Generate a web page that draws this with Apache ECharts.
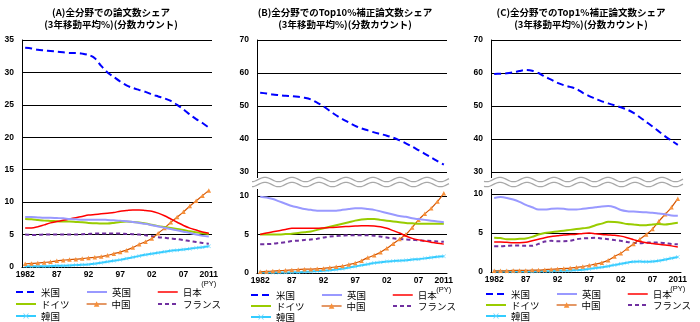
<!DOCTYPE html>
<html><head><meta charset="utf-8">
<script src="https://cdn.jsdelivr.net/npm/echarts@6/dist/echarts.min.js"></script>
<style>html,body{margin:0;padding:0;background:#fff}#c{width:700px;height:322px}</style>
</head><body><div id="c"></div>
<script>
const years = ['1982','1983','1984','1985','1986','1987','1988','1989','1990','1991','1992','1993','1994','1995','1996','1997','1998','1999','2000','2001','2002','2003','2004','2005','2006','2007','2008','2009','2010','2011'];
const xTickYears = ['1982','1987','1992','1997','2002','2007','2011'];
const xTickText  = ['1982','87','92','97','02','07','2011'];
const seriesNames = ['米国','英国','日本','ドイツ','中国','フランス','韓国'];
const panelTitles = [
  '(A)全分野での論文数シェア\n(3年移動平均%)(分数カウント)',
  '(B)全分野でのTop10%補正論文数シェア\n(3年移動平均%)(分数カウント)',
  '(C)全分野でのTop1%補正論文数シェア\n(3年移動平均%)(分数カウント)'
];

// Panel A: 論文数シェア
const usA = [33.8,33.7,33.5,33.4,33.3,33.2,33.1,33.0,33.0,32.9,32.7,32.2,31.0,30.0,29.3,28.6,28.0,27.6,27.3,27.0,26.6,26.3,26.0,25.6,25.0,24.3,23.5,22.8,22.2,21.5];
const ukA = [7.7,7.7,7.65,7.6,7.6,7.55,7.5,7.4,7.35,7.3,7.3,7.3,7.3,7.25,7.2,7.15,7.05,6.95,6.8,6.65,6.45,6.25,6.05,5.85,5.65,5.45,5.25,5.0,4.8,4.7];
const jpA = [6.0,6.0,6.2,6.5,6.8,7.0,7.2,7.4,7.6,7.8,8.0,8.1,8.2,8.3,8.4,8.6,8.7,8.8,8.8,8.7,8.6,8.3,7.9,7.4,6.9,6.4,6.0,5.7,5.4,5.2];
const deA = [7.4,7.35,7.25,7.15,7.1,7.05,7.0,7.0,6.95,6.9,6.8,6.75,6.7,6.7,6.8,6.95,7.0,6.95,6.85,6.7,6.5,6.3,6.15,6.0,5.85,5.7,5.5,5.35,5.2,5.1];
const cnA = [0.5,0.55,0.6,0.7,0.8,0.95,1.05,1.15,1.2,1.3,1.4,1.5,1.6,1.8,2.05,2.3,2.6,3.0,3.5,3.9,4.4,5.2,6.0,6.9,7.7,8.5,9.4,10.2,11.0,11.8];
const frA = [5.0,4.95,4.95,5.0,5.0,5.0,5.0,5.0,5.0,5.05,5.1,5.15,5.15,5.15,5.15,5.15,5.1,5.05,5.0,4.9,4.75,4.6,4.5,4.4,4.3,4.15,4.0,3.85,3.7,3.6];
const krA = [0.1,0.1,0.1,0.1,0.15,0.2,0.2,0.25,0.3,0.35,0.4,0.5,0.65,0.8,0.95,1.1,1.3,1.5,1.7,1.9,2.05,2.2,2.35,2.5,2.6,2.7,2.8,2.95,3.05,3.2];

// Panel B: Top10%
const usB = [54.0,53.8,53.5,53.3,53.1,53.0,52.8,52.5,52.0,51.0,49.9,48.5,47.2,46.0,45.0,44.0,43.2,42.6,42.0,41.5,41.0,40.4,39.6,38.7,37.7,36.6,35.5,34.4,33.3,32.2];
const ukB = [9.9,9.8,9.6,9.3,9.0,8.7,8.5,8.3,8.2,8.1,8.1,8.1,8.1,8.2,8.3,8.4,8.4,8.3,8.2,8.0,7.8,7.6,7.4,7.3,7.1,7.0,6.9,6.8,6.7,6.6];
const jpB = [5.0,5.2,5.35,5.5,5.65,5.8,5.8,5.8,5.8,5.8,5.85,5.9,5.95,6.0,6.05,6.1,6.15,6.15,6.1,6.0,5.8,5.5,5.2,4.8,4.5,4.3,4.15,4.0,3.85,3.75];
const deB = [5.0,5.0,5.0,5.0,5.05,5.1,5.2,5.3,5.4,5.6,5.8,6.0,6.2,6.4,6.6,6.8,6.95,7.0,7.0,6.9,6.8,6.7,6.6,6.5,6.45,6.4,6.4,6.4,6.4,6.4];
const cnB = [0.15,0.2,0.25,0.3,0.35,0.4,0.45,0.5,0.5,0.55,0.6,0.7,0.8,0.9,1.1,1.3,1.6,2.0,2.3,2.7,3.2,3.8,4.4,5.0,5.9,6.9,7.7,8.4,9.3,10.35];
const frB = [3.75,3.75,3.8,3.9,4.0,4.15,4.2,4.3,4.35,4.45,4.6,4.75,4.8,4.85,4.9,4.9,4.9,4.9,4.85,4.75,4.6,4.5,4.4,4.35,4.3,4.25,4.2,4.15,4.1,4.05];
const krB = [0.05,0.05,0.05,0.05,0.05,0.1,0.1,0.15,0.2,0.25,0.3,0.35,0.45,0.55,0.7,0.85,1.0,1.15,1.3,1.4,1.5,1.55,1.6,1.65,1.75,1.8,1.9,2.0,2.1,2.17];

// Panel C: Top1%
const usC = [59.7,59.8,59.9,60.2,60.6,60.9,60.7,60.0,58.9,58.0,57.0,56.3,55.8,55.2,54.0,53.0,52.2,51.4,50.8,50.2,49.6,48.9,47.9,46.6,45.2,43.8,42.3,40.8,39.5,38.2];
const ukC = [9.5,9.6,9.5,9.3,9.0,8.6,8.3,8.0,8.0,8.1,8.15,8.1,8.0,8.0,8.1,8.2,8.3,8.4,8.45,8.3,7.95,7.8,7.75,7.7,7.65,7.6,7.5,7.4,7.25,7.2];
const jpC = [3.85,3.85,3.8,3.75,3.75,3.8,4.0,4.2,4.4,4.55,4.65,4.75,4.8,4.85,4.95,5.0,4.9,4.8,4.75,4.7,4.6,4.4,4.15,3.9,3.75,3.65,3.55,3.45,3.35,3.2];
const deC = [4.4,4.35,4.2,4.2,4.25,4.3,4.5,4.8,5.0,5.1,5.2,5.3,5.4,5.5,5.6,5.7,6.0,6.2,6.45,6.4,6.3,6.15,6.1,6.0,6.0,6.1,6.15,6.1,6.2,6.3];
const cnC = [0.15,0.15,0.15,0.2,0.2,0.2,0.25,0.25,0.3,0.35,0.4,0.45,0.5,0.6,0.7,0.85,1.0,1.2,1.5,2.0,2.4,3.0,3.6,4.2,4.8,5.5,6.5,7.4,8.3,9.4];
const frC = [3.3,3.3,3.35,3.4,3.4,3.35,3.35,3.6,3.9,4.0,3.95,3.95,4.0,4.2,4.3,4.35,4.4,4.3,4.2,4.1,4.0,3.85,3.75,3.7,3.75,3.8,3.75,3.7,3.6,3.55];
const krC = [0.05,0.05,0.05,0.05,0.05,0.05,0.05,0.1,0.1,0.1,0.15,0.15,0.2,0.25,0.3,0.4,0.5,0.6,0.75,0.9,1.05,1.2,1.3,1.35,1.3,1.35,1.45,1.6,1.75,1.93];

const panelData = [
  [usA, ukA, jpA, deA, cnA, frA, krA],
  [usB, ukB, jpB, deB, cnB, frB, krB],
  [usC, ukC, jpC, deC, cnC, frC, krC]
];

const crossPath = 'path://M0,1L1,0L5,4L9,0L10,1L6,5L10,9L9,10L5,6L1,10L0,9L4,5Z';
const styles = {
  '米国':   {lineStyle:{color:'#0000FF',width:2,type:[7,4]}, itemStyle:{color:'#0000FF'}, symbol:'none'},
  '英国':   {lineStyle:{color:'#9999FF',width:2}, itemStyle:{color:'#9999FF'}, symbol:'none'},
  '日本':   {lineStyle:{color:'#FF0000',width:1.5}, itemStyle:{color:'#FF0000'}, symbol:'none'},
  'ドイツ': {lineStyle:{color:'#99CC00',width:2}, itemStyle:{color:'#99CC00'}, symbol:'none'},
  '中国':   {lineStyle:{color:'#D35400',width:1.2}, itemStyle:{color:'#F7903A'}, symbol:'triangle', symbolSize:4.5},
  'フランス':{lineStyle:{color:'#7030A0',width:2,type:[4,3]}, itemStyle:{color:'#7030A0'}, symbol:'none'},
  '韓国':   {lineStyle:{color:'#33CCFF',width:2}, itemStyle:{color:'#66D6FF'}, symbol:crossPath, symbolSize:4}
};

const FONT_NUM = 'Liberation Sans';
const FONT_JP = 'Noto Sans CJK JP';

// grids: 0=A, 1=B upper, 2=B lower, 3=C upper, 4=C lower
const grids = [
  {left:22, top:40, width:190, height:227},
  {left:257, top:40, width:190, height:132},
  {left:257, top:196, width:190, height:77},
  {left:491, top:40, width:190, height:132},
  {left:491, top:194, width:190, height:78}
].map(g => Object.assign({outerBoundsMode:'none', containLabel:false}, g));

const yDefs = [
  {min:0, max:35, interval:5},
  {min:30, max:70, interval:10},
  {min:0, max:10, interval:5},
  {min:30, max:70, interval:10},
  {min:0, max:10, interval:5}
];
const showX = [true, false, true, false, true];

const xAxes = grids.map((g, i) => ({
  type:'category', gridIndex:i, data:years, boundaryGap:true, show:showX[i],
  axisTick:{show:false},
  axisLine:{lineStyle:{color:'#000', width:1}},
  axisLabel:{
    interval:(idx) => xTickYears.indexOf(years[idx]) >= 0,
    formatter:(v) => {
      const t = xTickText[xTickYears.indexOf(v)];
      return v === '2011' ? '{y|' + t + '}\n{p|(PY)}' : '{y|' + t + '}';
    },
    margin:3,
    rich:{
      y:{fontSize:8.5, fontWeight:'bold', color:'#000', fontFamily:FONT_NUM, lineHeight:10},
      p:{fontSize:7.5, color:'#000', fontFamily:FONT_NUM, lineHeight:8}
    }
  }
}));

const yAxes = yDefs.map((d, i) => ({
  type:'value', gridIndex:i, min:d.min, max:d.max, interval:d.interval,
  axisLine:{show:true, lineStyle:{color:'#000', width:1}},
  axisTick:{show:false},
  splitLine:{show:true, lineStyle:{color:'#000', width:1}},
  axisLabel:{fontSize:8.5, fontWeight:'bold', color:'#000', fontFamily:FONT_NUM, margin:8}
}));

const series = [];
panelData.forEach((arrs, p) => {
  arrs.forEach((data, k) => {
    const name = seriesNames[k];
    let axis;
    if (p === 0) axis = 0;
    else axis = (k === 0) ? (p === 1 ? 1 : 3) : (p === 1 ? 2 : 4);
    series.push(Object.assign({
      type:'line', name:name, data:data, xAxisIndex:axis, yAxisIndex:axis,
      smooth:0.3, clip:false, animation:false, showAllSymbol:true, z: 10 - k
    }, JSON.parse(JSON.stringify(styles[name]))));
  });
});

// legends: 3 columns x 3 rows per panel
const legendX0 = [15, 250, 485];
const legendColStep = 71;
const legendRowCenters = [[292,304,316],[295,306,317],[294,305,316]];
const legends = [];
for (let p = 0; p < 3; p++) {
  seriesNames.forEach((name, k) => {
    const row = Math.floor(k / 3), col = k % 3;
    const st = styles[name];
    const lg = {
      data:[name], left: legendX0[p] + col * legendColStep, top: legendRowCenters[p][row] - 6,
      orient:'horizontal', itemWidth:20, itemHeight:7, itemGap:0, padding:0,
      selectedMode:false,
      lineStyle:{type: st.lineStyle.type || 'solid', width: st.lineStyle.width, color: st.lineStyle.color},
      textStyle:{fontSize:9.5, color:'#000', fontFamily:FONT_JP, lineHeight:12}
    };
    if (st.symbol === 'none') lg.itemStyle = {opacity:0};
    legends.push(lg);
  });
}

// decorations: break waves + titles
function wave(x0, x1, yc, amp, period, phase) {
  const pts = [];
  for (let x = x0; x <= x1; x += 1) pts.push([x, yc - amp * Math.cos(2 * Math.PI * (x - phase) / period)]);
  return pts;
}
const graphics = [];
[[252, 449, 265, 257], [484, 683, 500, 491]].forEach(([x0, x1, ph, ax]) => {
  graphics.push({type:'polyline', silent:true, shape:{points:wave(x0, x1, 179.5, 2.2, 27, ph)}, style:{stroke:'#A8A8A8', lineWidth:1.2, fill:null}});
  graphics.push({type:'polyline', silent:true, shape:{points:wave(x0, x1, 184.5, 2.2, 27, ph)}, style:{stroke:'#A8A8A8', lineWidth:1.2, fill:null}});
});
graphics.push({type:'line', silent:true, shape:{x1:257.5, y1:172, x2:257.5, y2:178}, style:{stroke:'#000', lineWidth:1}});
graphics.push({type:'line', silent:true, shape:{x1:257.5, y1:189, x2:257.5, y2:196}, style:{stroke:'#000', lineWidth:1}});
graphics.push({type:'line', silent:true, shape:{x1:491.5, y1:172, x2:491.5, y2:178}, style:{stroke:'#000', lineWidth:1}});
graphics.push({type:'line', silent:true, shape:{x1:491.5, y1:189, x2:491.5, y2:194}, style:{stroke:'#000', lineWidth:1}});
const titleCenters = [111, 345, 581];
panelTitles.forEach((t, i) => {
  graphics.push({type:'text', silent:true, x:titleCenters[i], y:6,
    style:{text:t, textAlign:'center', textVerticalAlign:'top', fontSize:9.5, fontWeight:'bold', fontFamily:FONT_JP, fill:'#000', lineHeight:12}});
});

const chart = echarts.init(document.getElementById('c'), null, {renderer:'canvas'});
chart.setOption({
  animation:false,
  backgroundColor:'#fff',
  grid:grids, xAxis:xAxes, yAxis:yAxes, legend:legends, series:series, graphic:graphics
});
</script></body></html>
